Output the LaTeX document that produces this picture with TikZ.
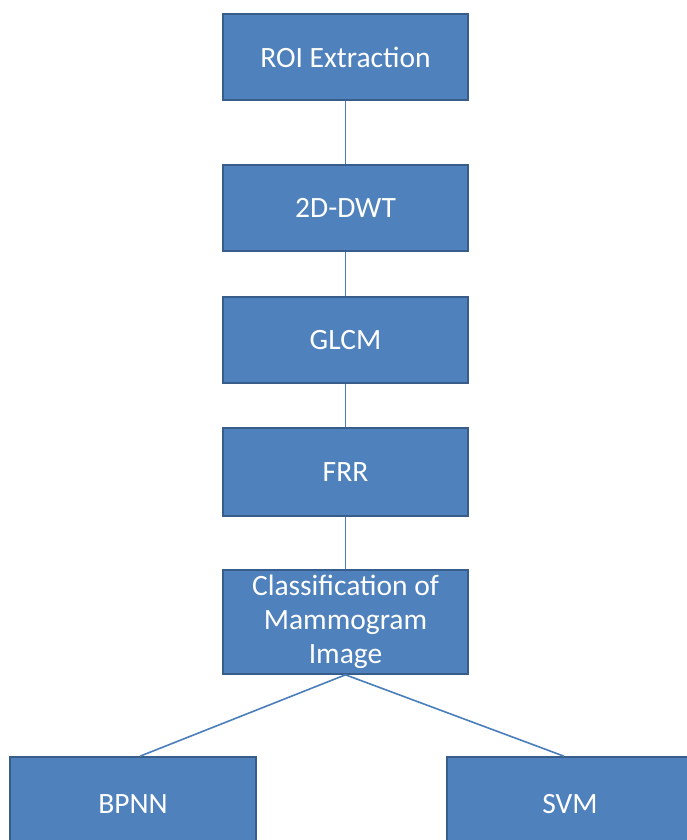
\documentclass[tikz,border=0pt]{standalone}
\usepackage{fontspec}
\setmainfont{Carlito}
\definecolor{boxfill}{HTML}{4F81BD}
\definecolor{boxline}{HTML}{385D8A}
\definecolor{linkcol}{HTML}{4A7EBB}
\begin{document}
\begin{tikzpicture}[x=1pt,y=-1pt,
  stage/.style={rectangle, fill=boxfill, draw=boxline, line width=1.6pt,
    minimum width=245pt, text=white, align=center, inner sep=0pt,
    font=\fontsize{29.5}{34}\selectfont},
  link/.style={draw=linkcol, line width=1.6pt}]
\useasboundingbox (0,0) rectangle (686,840);
\fill[white] (0,0) rectangle (686,840);
\node[stage, minimum height=86pt] (roi) at (345.5,57) {ROI Extraction};
\node[stage, minimum height=86pt] (dwt) at (345.5,208) {2D-DWT};
\node[stage, minimum height=86pt] (glcm) at (345.5,340) {GLCM};
\node[stage, minimum height=88pt] (frr) at (345.5,472) {FRR};
\node[stage, minimum height=104pt] (cls) at (345.5,622) {Classification of\\Mammogram\\Image};
\node[stage, minimum height=94pt, minimum width=246pt] (bpnn) at (133,804) {BPNN};
\node[stage, minimum height=94pt, minimum width=246pt] (svm) at (570,804) {SVM};
\draw[link] (roi) -- (dwt);
\draw[link] (dwt) -- (glcm);
\draw[link] (glcm) -- (frr);
\draw[link] (frr) -- (cls);
\draw[link] (cls.south) -- ([xshift=7pt]bpnn.north);
\draw[link] (cls.south) -- ([xshift=-6pt]svm.north);
\end{tikzpicture}
\end{document}
